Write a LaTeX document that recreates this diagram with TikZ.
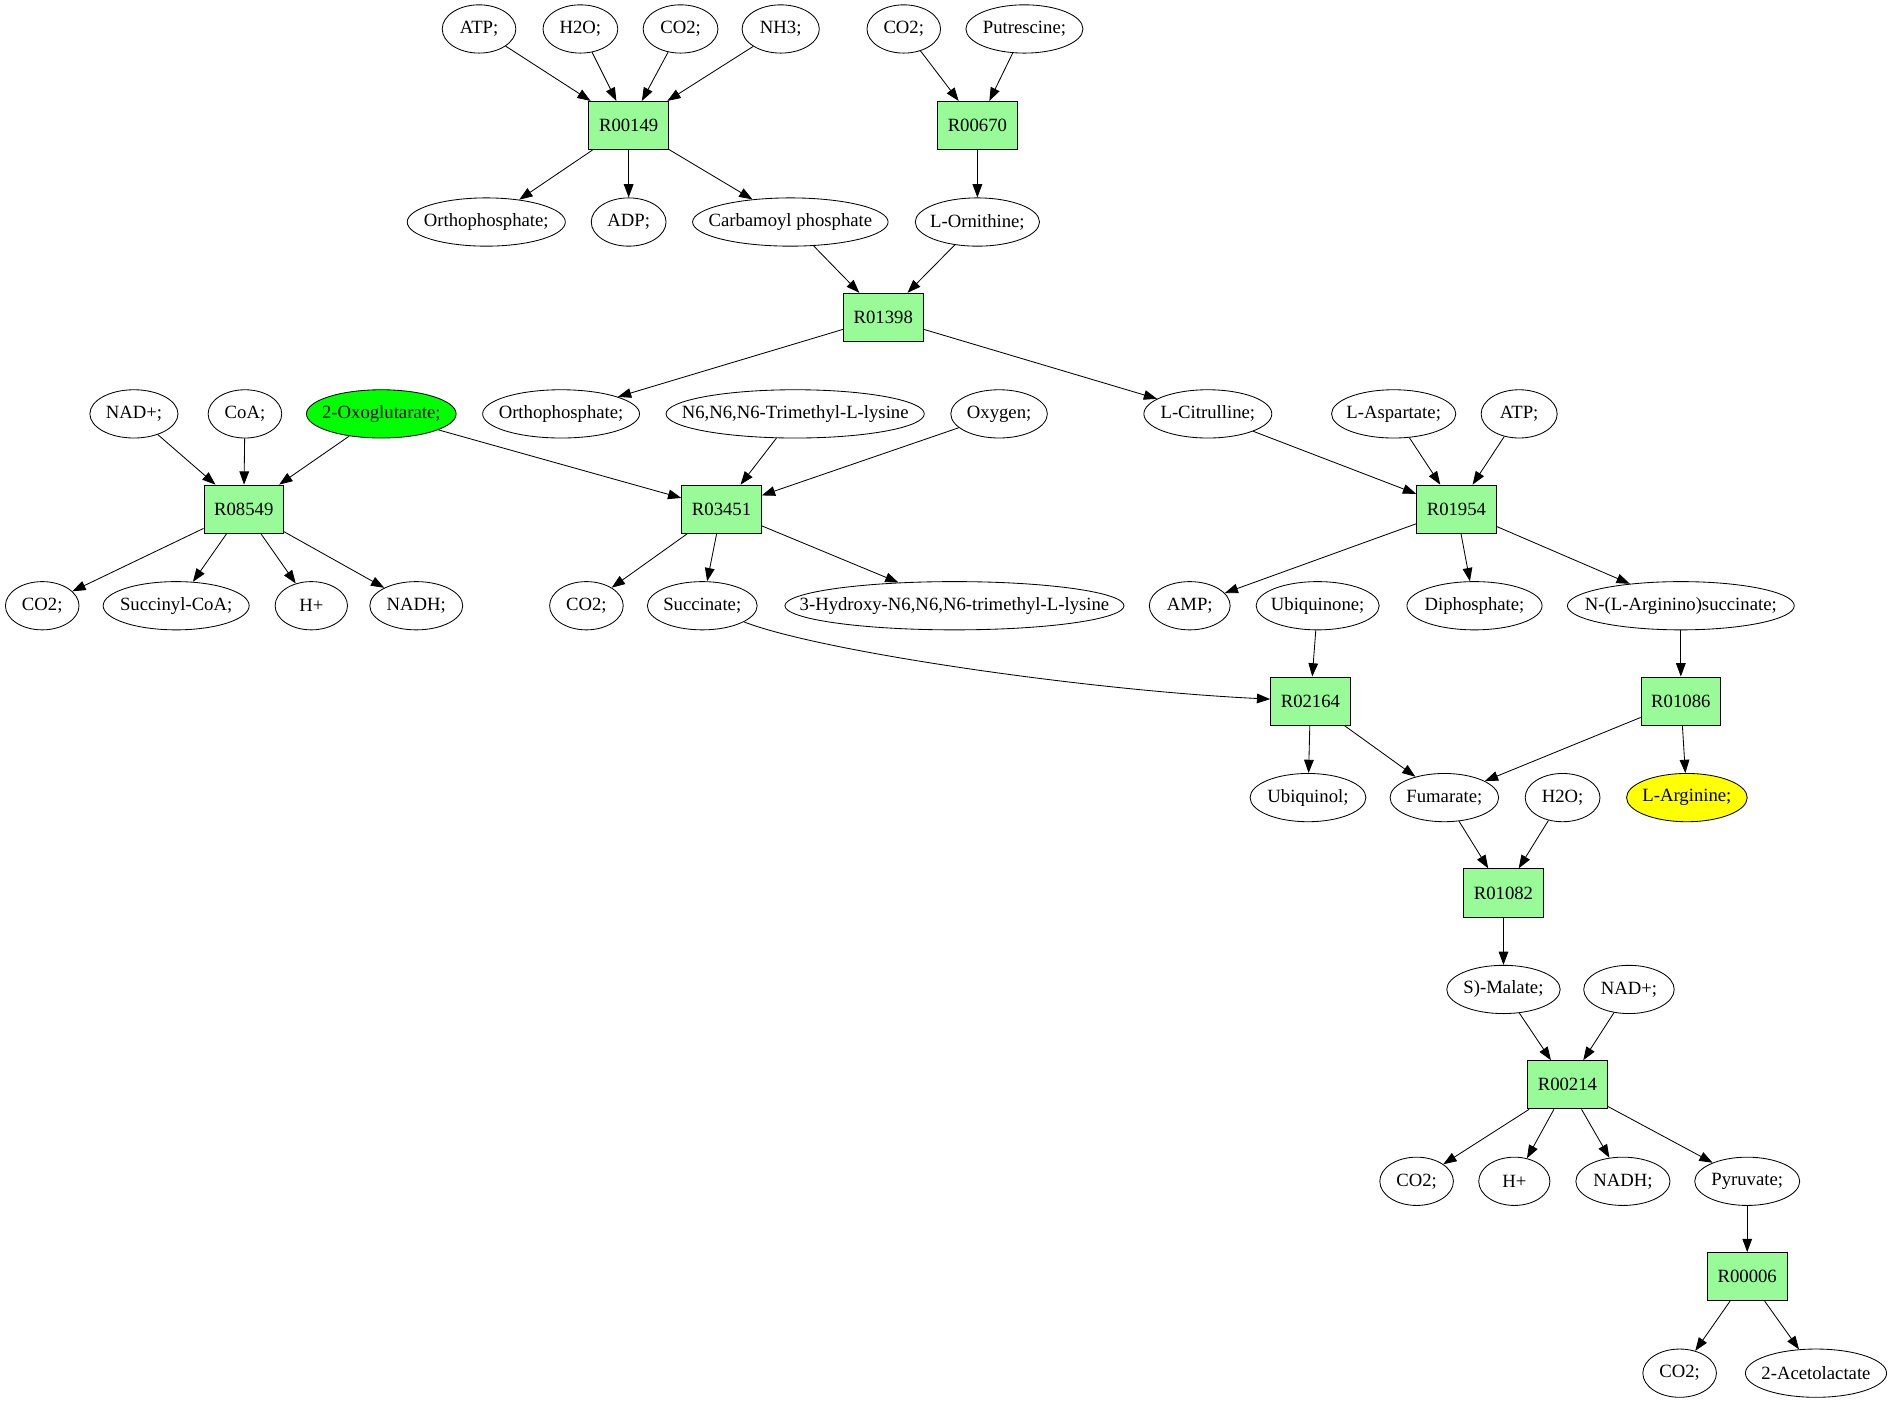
\documentclass[tikz,border=0pt]{standalone}
\usepackage{fontspec}
\setmainfont{Liberation Serif}
\usetikzlibrary{shapes.geometric,arrows.meta}
\definecolor{rxgreen}{HTML}{98FB98}
\definecolor{brightgreen}{HTML}{00FF00}
\definecolor{brightyellow}{HTML}{FFFF00}
\newcommand{\zt}[1]{\makebox[0pt]{#1}}
\tikzset{
  met/.style={ellipse, draw, line width=0.7bp, minimum height=40bp, minimum width=#1, inner sep=0pt},
  rxn/.style={rectangle, draw, line width=0.7bp, fill=rxgreen, minimum height=40bp, minimum width=66bp, inner sep=0pt},
  flow/.style={line width=0.7bp, -{Triangle[length=11bp,width=8bp]}},
}
\begin{document}
\begin{tikzpicture}[x=1bp,y=-1bp,font=\fontsize{15.5bp}{18bp}\selectfont]
\useasboundingbox (0,0) rectangle (1568,1162.7);
% row 1
\node[met=61bp] (atpA) at (397,24) {\zt{ATP;}};
\node[met=62bp] (h2oA) at (481,24) {\zt{H2O;}};
\node[met=62bp] (co2A) at (564,24) {\zt{CO2;}};
\node[met=64bp] (nh3A) at (647,24) {\zt{NH3;}};
\node[met=61bp] (co2B) at (749,24) {\zt{CO2;}};
\node[met=97bp] (putr) at (849,24) {\zt{Putrescine;}};
% row 2
\node[rxn] (r149) at (521,104) {R00149};
\node[rxn] (r670) at (810,104) {R00670};
% row 3
\node[met=131bp] (orthoA) at (403,184) {\zt{Orthophosphate;}};
\node[met=62bp] (adp) at (521,184) {\zt{ADP;}};
\node[met=162bp] (carb) at (655,184) {\zt{Carbamoyl phosphate}};
\node[met=103bp] (orn) at (810,184) {\zt{L-Ornithine;}};
% row 4
\node[rxn] (r1398) at (732,263) {R01398};
% row 5
\node[met=73bp] (nadA) at (111,343) {\zt{NAD+;}};
\node[met=61bp] (coa) at (203,343) {\zt{CoA;}};
\node[met=124bp, fill=brightgreen] (oxo) at (316,343) {\zt{2-Oxoglutarate;}};
\node[met=130bp] (orthoB) at (465,343) {\zt{Orthophosphate;}};
\node[met=214bp] (n6) at (659,343) {\zt{N6,N6,N6-Trimethyl-L-lysine}};
\node[met=80bp] (oxy) at (828,343) {\zt{Oxygen;}};
\node[met=106bp] (cit) at (1001,343) {\zt{L-Citrulline;}};
\node[met=103bp] (asp) at (1155,343) {\zt{L-Aspartate;}};
\node[met=63bp] (atpB) at (1259,343) {\zt{ATP;}};
% row 6
\node[rxn] (r8549) at (202,422) {R08549};
\node[rxn] (r3451) at (598,422) {R03451};
\node[rxn] (r1954) at (1207,422) {R01954};
% row 7
\node[met=61bp] (co2C) at (35,502) {\zt{CO2;}};
\node[met=121bp] (succoa) at (146,502) {\zt{Succinyl-CoA;}};
\node[met=60bp] (hA) at (258,502) {\zt{H+}};
\node[met=77bp] (nadhA) at (345,502) {\zt{NADH;}};
\node[met=61bp] (co2D) at (486,502) {\zt{CO2;}};
\node[met=91bp] (succ) at (582,502) {\zt{Succinate;}};
\node[met=281bp] (hydroxy) at (791,502) {\zt{3-Hydroxy-N6,N6,N6-trimethyl-L-lysine}};
\node[met=67bp] (amp) at (986,502) {\zt{AMP;}};
\node[met=102bp] (ubq) at (1092,502) {\zt{Ubiquinone;}};
\node[met=112bp] (dip) at (1222,502) {\zt{Diphosphate;}};
\node[met=188bp] (nargs) at (1393,502) {\zt{N-(L-Arginino)succinate;}};
% row 8
\node[rxn] (r2164) at (1086,581) {R02164};
\node[rxn] (r1086) at (1393,581) {R01086};
% row 9
\node[met=96bp] (ubql) at (1084,661) {\zt{Ubiquinol;}};
\node[met=90bp] (fum) at (1197,661) {\zt{Fumarate;}};
\node[met=62bp] (h2oB) at (1295,661) {\zt{H2O;}};
\node[met=100bp, fill=brightyellow] (arg) at (1398,661) {\zt{L-Arginine;}};
% row 10
\node[rxn] (r1082) at (1246,740) {R01082};
% row 11
\node[met=94bp] (mal) at (1246,820) {\zt{S)-Malate;}};
\node[met=75bp] (nadB) at (1350,820) {\zt{NAD+;}};
% row 12
\node[rxn] (r214) at (1299,899) {R00214};
% row 13
\node[met=61bp] (co2E) at (1174,979) {\zt{CO2;}};
\node[met=59bp] (hB) at (1255,979) {\zt{H+}};
\node[met=78bp] (nadhB) at (1345,979) {\zt{NADH;}};
\node[met=87bp] (pyr) at (1448,979) {\zt{Pyruvate;}};
% row 14
\node[rxn] (r6) at (1448,1058) {R00006};
% row 15
\node[met=61bp] (co2F) at (1392,1138) {\zt{CO2;}};
\node[met=117bp] (acet) at (1505,1138) {\zt{2-Acetolactate}};

% edges
\foreach \a in {atpA,h2oA,co2A,nh3A} \draw[flow] (\a) -- (r149);
\foreach \a in {co2B,putr} \draw[flow] (\a) -- (r670);
\foreach \b in {orthoA,adp,carb} \draw[flow] (r149) -- (\b);
\draw[flow] (r670) -- (orn);
\foreach \a in {carb,orn} \draw[flow] (\a) -- (r1398);
\foreach \b in {orthoB,cit} \draw[flow] (r1398) -- (\b);
\foreach \a in {nadA,coa,oxo} \draw[flow] (\a) -- (r8549);
\foreach \a in {oxo,n6,oxy} \draw[flow] (\a) -- (r3451);
\foreach \a in {cit,asp,atpB} \draw[flow] (\a) -- (r1954);
\foreach \b in {co2C,succoa,hA,nadhA} \draw[flow] (r8549) -- (\b);
\foreach \b in {co2D,succ,hydroxy} \draw[flow] (r3451) -- (\b);
\foreach \b in {amp,dip,nargs} \draw[flow] (r1954) -- (\b);
\draw[flow] (succ) .. controls (680,540) and (900,572) .. (r2164);
\draw[flow] (ubq) -- (r2164);
\draw[flow] (nargs) -- (r1086);
\foreach \b in {ubql,fum} \draw[flow] (r2164) -- (\b);
\foreach \b in {fum,arg} \draw[flow] (r1086) -- (\b);
\foreach \a in {fum,h2oB} \draw[flow] (\a) -- (r1082);
\draw[flow] (r1082) -- (mal);
\foreach \a in {mal,nadB} \draw[flow] (\a) -- (r214);
\foreach \b in {co2E,hB,nadhB,pyr} \draw[flow] (r214) -- (\b);
\draw[flow] (pyr) -- (r6);
\foreach \b in {co2F,acet} \draw[flow] (r6) -- (\b);
\end{tikzpicture}
\end{document}
